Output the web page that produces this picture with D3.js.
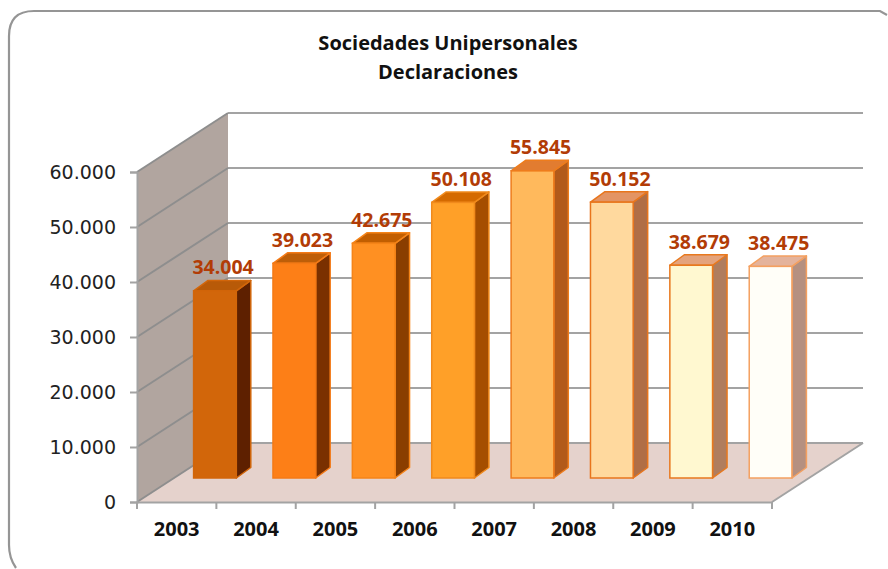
<!DOCTYPE html>
<html><head><meta charset="utf-8">
<script src="https://cdn.jsdelivr.net/npm/d3@7"></script>
<style>html,body{margin:0;padding:0;background:#fff}svg{display:block}</style>
</head><body><svg id="c" width="888" height="569"></svg>
<script>
const titleLines = ["Sociedades Unipersonales", "Declaraciones"];
const years = ["2003","2004","2005","2006","2007","2008","2009","2010"];
const values = [34004,39023,42675,50108,55845,50152,38679,38475];
const yTicks = [0,10000,20000,30000,40000,50000,60000];
const frontColors = ["#D2660A","#FD7F17","#FF9022","#FFA028","#FFB95C","#FFD99E","#FFF8D0","#FFFEF8"];
const sideColors  = ["#5E2000","#7A3000","#8A3E00","#A54E00","#B25A1A","#B06E46","#B07D5E","#B59080"];
const topColors   = ["#B85A08","#BE5E08","#C25E00","#D46A00","#E27C30","#E39464","#E4A37C","#E4B39C"];
const strokeColors= ["#D2660A","#F47A16","#F58418","#F08A1C","#EE7C1C","#E8751C","#E8791E","#F4A060"];

const svg = d3.select("#c");
const L=137,R=772,B=502,T=172;
const wallDx=91, wallDy=-59;           // perspective depth of the chart box
const barLift=24, barShift=37;         // how far into the box the bars stand
const barDx=14.5, barDy=-10.5;         // depth of one bar
const GRID="#A3A3A3", WALLGRID="#8E8E8E";

const x=d3.scaleBand().domain(years).range([L,R]).paddingInner(0).paddingOuter(0);
const y=d3.scaleLinear().domain([0,60000]).range([B,T]);
const locale=d3.formatLocale({decimal:",",thousands:".",grouping:[3],currency:["","€"]});
const fmt=locale.format(",d");
const poly=pts=>pts.map(p=>p.join(",")).join(" ");
const OPEN="'Open Sans',sans-serif";

// card border
svg.append("path").attr("d","M16,568 Q9,558 9,545 L9,36 Q9,11 34,11 L880,11 L887,15")
  .attr("fill","none").attr("stroke","#959595").attr("stroke-width",2.2);

// title
svg.append("g").selectAll("text").data(titleLines).join("text")
  .attr("x",448).attr("y",(d,i)=>50+i*29).attr("text-anchor","middle")
  .attr("font-family",OPEN).attr("font-weight",700).attr("font-size",20).attr("fill","#111")
  .text(d=>d);

// walls and floor
svg.append("polygon").attr("fill","#B1A59F")
  .attr("points",poly([[L,y(60000)],[L+wallDx,y(60000)+wallDy],[L+wallDx,y(0)+wallDy],[L,y(0)]]));
svg.append("polygon").attr("fill","#E5D2CC")
  .attr("points",poly([[L,B],[R,B],[R+wallDx,B+wallDy],[L+wallDx,B+wallDy]]));

// gridlines
const grid=svg.append("g").attr("fill","none").attr("stroke-width",2);
grid.selectAll("polyline.back").data(yTicks).join("polyline").attr("class","back").attr("stroke",GRID)
  .attr("points",d=>poly([[L+wallDx,y(d)+wallDy],[R+wallDx,y(d)+wallDy]]));
grid.selectAll("polyline.wall").data(yTicks).join("polyline").attr("class","wall").attr("stroke",WALLGRID)
  .attr("points",d=>poly([[L,y(d)],[L+wallDx,y(d)+wallDy]]));
svg.append("line").attr("x1",R).attr("y1",B).attr("x2",R+wallDx).attr("y2",B+wallDy)
  .attr("stroke",GRID).attr("stroke-width",2);

// y axis
const ya=svg.append("g").attr("transform",`translate(${L},0)`)
  .call(d3.axisLeft(y).tickValues(yTicks).tickFormat(fmt).tickSize(7).tickPadding(14));
ya.selectAll("text").attr("font-family","'DejaVu Sans',sans-serif").attr("font-size",19).attr("fill","#222");

// x axis
const xa=svg.append("g").attr("transform",`translate(0,${B})`)
  .call(d3.axisBottom(x).tickSize(0).tickPadding(20));
xa.selectAll("text").attr("font-family",OPEN).attr("font-weight",700).attr("font-size",20).attr("fill","#111");
xa.append("g").selectAll("line").data(years.concat("end")).join("line")
  .attr("x1",(d,i)=>L+i*x.step()).attr("x2",(d,i)=>L+i*x.step()).attr("y1",0).attr("y2",7);
[ya,xa].forEach(a=>{a.selectAll("path,line").attr("stroke",GRID).attr("stroke-width",2);});

// bars
const barW=42.7, gap=19.6;
const bars=svg.append("g").selectAll("g").data(values).join("g");
const bx=(i)=>x(years[i])+barShift+gap;
const by0=y(0)-barLift;
const by=v=>by0-(y(0)-y(v));
bars.each(function(v,i){
  const g=d3.select(this),x0=bx(i),x1=x0+barW,t=by(v);
  const st={stroke:strokeColors[i],w:1.5};
  g.append("polygon").attr("fill",sideColors[i]).attr("stroke",st.stroke).attr("stroke-width",st.w).attr("stroke-linejoin","round")
    .attr("points",poly([[x1,t],[x1+barDx,t+barDy],[x1+barDx,by0+barDy],[x1,by0]]));
  g.append("polygon").attr("fill",topColors[i]).attr("stroke",st.stroke).attr("stroke-width",st.w).attr("stroke-linejoin","round")
    .attr("points",poly([[x0,t],[x0+barDx,t+barDy],[x1+barDx,t+barDy],[x1,t]]));
  g.append("rect").attr("x",x0).attr("y",t).attr("width",barW).attr("height",by0-t)
    .attr("fill",frontColors[i]).attr("stroke",st.stroke).attr("stroke-width",st.w);
  g.append("text").attr("x",x0+29.5).attr("y",t+barDy-6).attr("text-anchor","middle")
    .attr("font-family",OPEN).attr("font-weight",700).attr("font-size",19.5).attr("fill","#B23C06")
    .text(fmt(v));
});
</script></body></html>
